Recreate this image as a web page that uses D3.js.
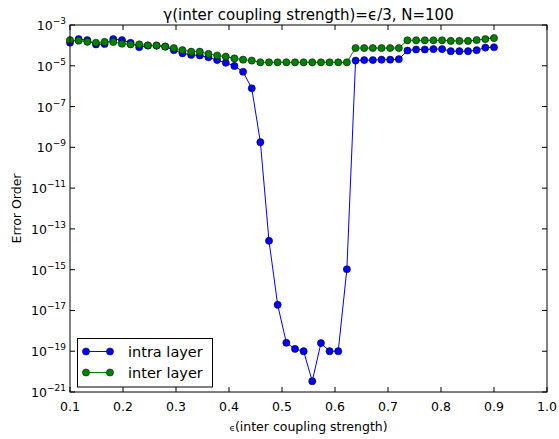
<!DOCTYPE html>
<html>
<head>
<meta charset="utf-8">
<script src="https://cdn.jsdelivr.net/npm/d3@7"></script>
<style>
  body { margin: 0; background: #fff; }
  svg { font-family: "DejaVu Sans", sans-serif; }
</style>
</head>
<body>
<svg id="chart" width="559" height="439"></svg>
<script>
// coupling strength values (x)
var eps = [0.1, 0.1163, 0.1327, 0.1490, 0.1653, 0.1816, 0.1980, 0.2143, 0.2306, 0.2469,
  0.2633, 0.2796, 0.2959, 0.3122, 0.3286, 0.3449, 0.3612, 0.3776, 0.3939, 0.4102,
  0.4265, 0.4429, 0.4592, 0.4755, 0.4918, 0.5082, 0.5245, 0.5408, 0.5571, 0.5735,
  0.5898, 0.6061, 0.6224, 0.6388, 0.6551, 0.6714, 0.6878, 0.7041, 0.7204, 0.7367,
  0.7531, 0.7694, 0.7857, 0.8020, 0.8184, 0.8347, 0.8510, 0.8673, 0.8837, 0.9];

var intraErr = [1.35e-4, 2.04e-4, 1.82e-4, 1.12e-4, 1.17e-4, 2.04e-4, 1.82e-4, 1.35e-4, 8.1e-5, 9.8e-5,
  9.8e-5, 8.7e-5, 5.8e-5, 4.1e-5, 3.4e-5, 3.2e-5, 2.6e-5, 1.9e-5, 1.4e-5, 9.8e-6,
  5.1e-6, 7.9e-7, 1.8e-9, 2.6e-14, 1.9e-17, 2.6e-19, 1.3e-19, 1.0e-19, 3.4e-21, 2.5e-19,
  1.0e-19, 1.0e-19, 1.05e-15, 1.8e-5, 1.9e-5, 1.9e-5, 2.0e-5, 2.0e-5, 2.1e-5, 5.6e-5,
  6.3e-5, 6.3e-5, 6.6e-5, 6.6e-5, 5.2e-5, 5.2e-5, 5.2e-5, 5.8e-5, 7.8e-5, 8.1e-5];

var interErr = [1.82e-4, 1.7e-4, 1.5e-4, 1.35e-4, 1.48e-4, 1.48e-4, 1.2e-4, 1.12e-4, 1.12e-4, 1.0e-4,
  9.8e-5, 8.7e-5, 7.4e-5, 5.8e-5, 4.9e-5, 4.9e-5, 3.8e-5, 3.2e-5, 2.8e-5, 2.3e-5,
  2.0e-5, 1.8e-5, 1.48e-5, 1.48e-5, 1.48e-5, 1.48e-5, 1.48e-5, 1.48e-5, 1.48e-5, 1.48e-5,
  1.48e-5, 1.48e-5, 1.48e-5, 7.4e-5, 7.4e-5, 7.4e-5, 7.4e-5, 7.4e-5, 7.4e-5, 1.78e-4,
  1.78e-4, 1.78e-4, 1.78e-4, 1.78e-4, 1.66e-4, 1.66e-4, 1.66e-4, 1.82e-4, 2.04e-4, 2.3e-4];

var xTicks = [0.1, 0.2, 0.3, 0.4, 0.5, 0.6, 0.7, 0.8, 0.9, 1.0];
var yExps = [-3, -5, -7, -9, -11, -13, -15, -17, -19, -21];

var series = [
  { name: "intra layer", values: intraErr, color: "#0000ff" },
  { name: "inter layer", values: interErr, color: "#008000" }
];

var svg = d3.select("#chart");
var plotL = 70, plotR = 547, plotT = 25, plotB = 392;

var x = d3.scaleLinear().domain([0.1, 1.0]).range([plotL, plotR]);
var y = d3.scaleLog().domain([1e-21, 1e-3]).range([plotB, plotT]);

// series
series.forEach(function (s) {
  var pts = eps.map(function (e, i) { return [e, s.values[i]]; });
  var line = d3.line().x(function (d) { return x(d[0]); }).y(function (d) { return y(d[1]); });
  var g = svg.append("g");
  g.append("path").datum(pts)
    .attr("d", line)
    .style("fill", "none")
    .style("stroke", s.color)
    .style("stroke-width", 1);
  g.selectAll("circle").data(pts).enter().append("circle")
    .attr("cx", function (d) { return x(d[0]); })
    .attr("cy", function (d) { return y(d[1]); })
    .attr("r", 3.6)
    .style("fill", s.color)
    .style("stroke", "#000")
    .style("stroke-width", 0.5);
});

// frame
svg.append("rect")
  .attr("x", plotL).attr("y", plotT)
  .attr("width", plotR - plotL).attr("height", plotB - plotT)
  .style("fill", "none").style("stroke", "#000").style("stroke-width", 1);

// x ticks (inside, bottom and top)
var tickLen = 5;
xTicks.forEach(function (t) {
  var px = x(t);
  svg.append("line").attr("x1", px).attr("x2", px).attr("y1", plotB).attr("y2", plotB - tickLen)
    .style("stroke", "#000");
  svg.append("line").attr("x1", px).attr("x2", px).attr("y1", plotT).attr("y2", plotT + tickLen)
    .style("stroke", "#000");
  svg.append("text").attr("x", px).attr("y", 411)
    .attr("text-anchor", "middle").style("font-size", "12.5px").style("fill", "#000")
    .text(d3.format(".1f")(t));
});

// y ticks
yExps.forEach(function (e) {
  var py = y(Math.pow(10, e));
  svg.append("line").attr("x1", plotL).attr("x2", plotL + tickLen).attr("y1", py).attr("y2", py)
    .style("stroke", "#000");
  svg.append("line").attr("x1", plotR).attr("x2", plotR - tickLen).attr("y1", py).attr("y2", py)
    .style("stroke", "#000");
  var t = svg.append("text").attr("x", 66).attr("y", py + 5)
    .attr("text-anchor", "end").style("font-size", "12.5px").style("fill", "#000");
  t.append("tspan").text("10");
  t.append("tspan").attr("dy", -6).style("font-size", "9px").text("\u2212" + (-e));
});

// title
svg.append("text").attr("x", (plotL + plotR) / 2).attr("y", 20)
  .attr("text-anchor", "middle").style("font-size", "15px")
  .text("\u03b3(inter coupling strength)=\u03f5/3, N=100");

// x label
var xl = svg.append("text").attr("x", (plotL + plotR) / 2).attr("y", 431)
  .attr("text-anchor", "middle").style("font-size", "12.5px");
xl.append("tspan").style("font-size", "9px").text("\u03f5");
xl.append("tspan").text("(inter coupling strength)");

// y label
svg.append("text").attr("transform", "translate(21," + ((plotT + plotB) / 2) + ") rotate(-90)")
  .attr("text-anchor", "middle").style("font-size", "12.5px")
  .text("Error Order");

// legend
var lg = svg.append("g");
lg.append("rect").attr("x", 77.5).attr("y", 338.5).attr("width", 135).attr("height", 48.5)
  .style("fill", "#fff").style("stroke", "#000").style("stroke-width", 1);
series.forEach(function (s, i) {
  var ly = 351.5 + i * 21;
  lg.append("line").attr("x1", 86).attr("x2", 110).attr("y1", ly).attr("y2", ly)
    .style("stroke", s.color).style("stroke-width", 1);
  [86, 110].forEach(function (cx) {
    lg.append("circle").attr("cx", cx).attr("cy", ly).attr("r", 3.6)
      .style("fill", s.color).style("stroke", "#000").style("stroke-width", 0.5);
  });
  lg.append("text").attr("x", 128).attr("y", ly + 5).style("font-size", "14.5px")
    .text(s.name);
});
</script>
</body>
</html>
